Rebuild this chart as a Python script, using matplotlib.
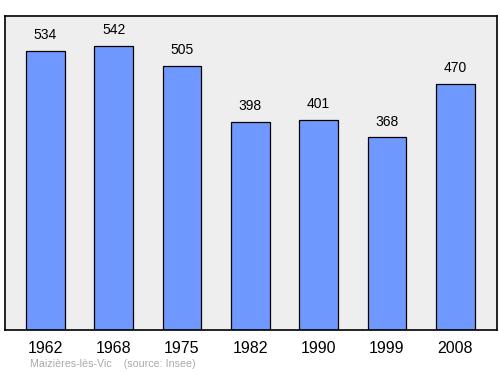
import matplotlib
matplotlib.use("Agg")
import matplotlib.pyplot as plt

years = ["1962", "1968", "1975", "1982", "1990", "1999", "2008"]
population = [534, 542, 505, 398, 401, 368, 470]

plt.rcParams['font.family'] = ['Liberation Sans', 'DejaVu Sans']

fig = plt.figure(figsize=(5.0, 3.74), dpi=100)
ax = fig.add_axes([0.01, 0.1176, 0.984, 0.8396])
ax.set_facecolor("#eeeeee")

x = range(len(years))
ax.bar(x, population, width=0.57, color="#7099ff", edgecolor="black", linewidth=0.9)
for i, v in zip(x, population):
    ax.text(i, v + 17, str(v), ha="center", va="bottom", fontsize=10)

ax.set_xlim(-0.59, 6.61)
ax.set_ylim(0, 600)
ax.set_xticks(list(x))
ax.set_xticklabels(years, fontsize=11.5)
ax.tick_params(axis="x", length=0, pad=8)
ax.set_yticks([])
for s in ax.spines.values():
    s.set_linewidth(1.2)

fig.text(0.06, 0.018, "Maizières-lès-Vic    (source: Insee)", fontsize=7.7, color="#aaaaaa")

fig.savefig("out.png", dpi=100)
